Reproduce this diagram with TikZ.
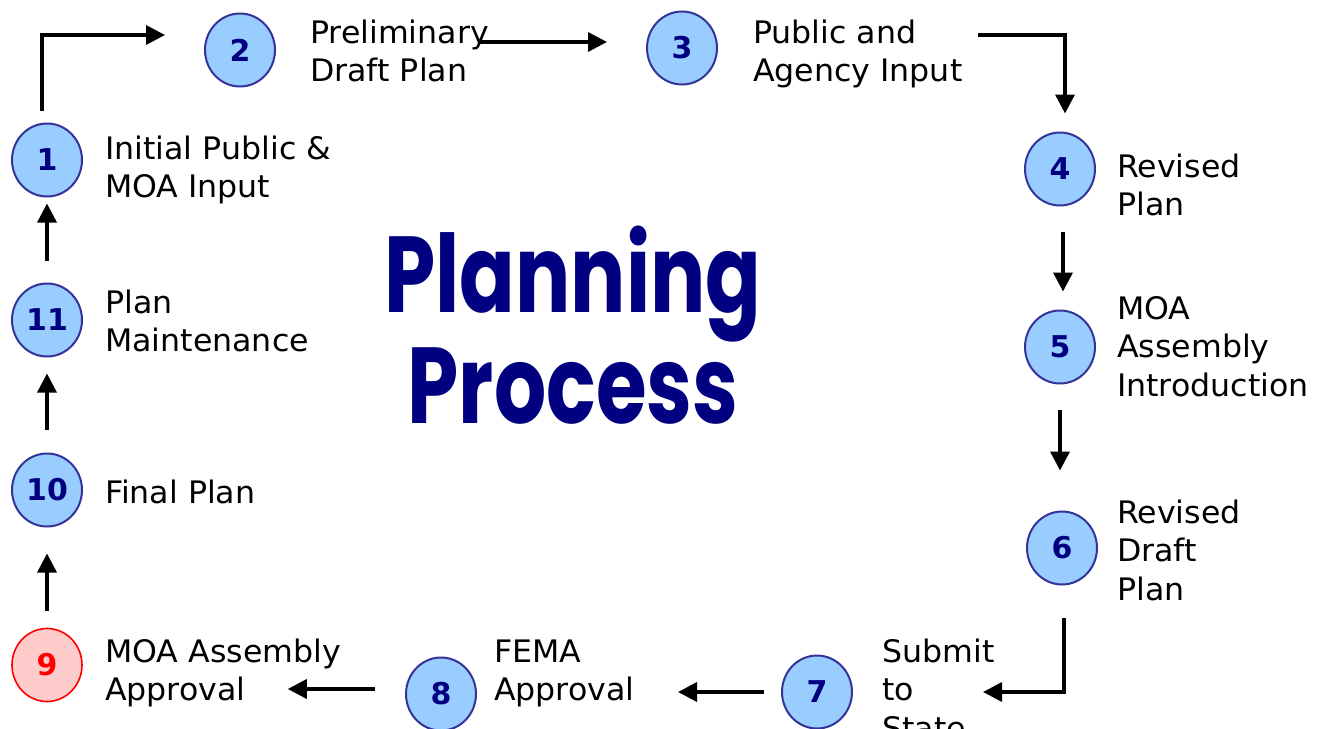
\documentclass[tikz,border=0pt]{standalone}
\usepackage{fontspec}
\usepackage{graphicx}
\setmainfont{DejaVu Sans}
\newfontfamily\titlefont{Poppins}
\usetikzlibrary{arrows.meta,shapes.geometric}

\definecolor{stepfill}{HTML}{99CCFF}
\definecolor{stepedge}{HTML}{333399}
\definecolor{stepnum}{HTML}{000080}
\definecolor{holdfill}{HTML}{FFCCCC}
\definecolor{holdedge}{HTML}{FF0000}
\definecolor{titleblue}{HTML}{000080}

% multi-line step caption, anchored on the baseline of its first line
\newcommand\steplines[1]{{\fontsize{31}{38.5}\selectfont\scalebox{1.02}[1]{\begin{tabular}[t]{@{}l@{}}#1\end{tabular}}}}

\begin{document}
\begin{tikzpicture}[x=1pt,y=-1pt,
  stepcircle/.style={ellipse, draw=stepedge, fill=stepfill, line width=2pt,
    minimum width=70pt, minimum height=73pt, inner sep=0pt, text=stepnum,
    font=\fontsize{30}{32}\selectfont\bfseries},
  holdcircle/.style={stepcircle, draw=holdedge, fill=holdfill, text=holdedge, line width=1.6pt},
  steptext/.style={anchor=base west, inner sep=0pt},
  flow/.style={line width=3.5pt, -{Triangle[length=19pt,width=19pt]}}]
\useasboundingbox (0,0) rectangle (1330,728);

% step markers
\node[stepcircle] (c1)  at (47,160)  {1};
\node[stepcircle] (c2)  at (240,50)  {2};
\node[stepcircle] (c3)  at (682,48)  {3};
\node[stepcircle] (c4)  at (1060,169) {4};
\node[stepcircle] (c5)  at (1060,347) {5};
\node[stepcircle] (c6)  at (1062,548) {6};
\node[stepcircle] (c7)  at (817,692) {7};
\node[stepcircle] (c8)  at (441,694) {8};
\node[holdcircle] (c9)  at (47,665)  {9};
\node[stepcircle] (c10) at (47,490)  {10};
\node[stepcircle] (c11) at (47,320)  {11};

% step captions
\node[steptext] (l1)  at (105,159)  {\steplines{Initial Public \&\\MOA Input}};
\node[steptext] (l2)  at (310,43)   {\steplines{Preliminary\\Draft Plan}};
\node[steptext] (l3)  at (753,43)   {\steplines{Public and\\Agency Input}};
\node[steptext] (l4)  at (1117,177) {\steplines{Revised\\Plan}};
\node[steptext] (l5)  at (1117,319) {\steplines{MOA\\Assembly\\Introduction}};
\node[steptext] (l6)  at (1117,523) {\steplines{Revised\\Draft\\Plan}};
\node[steptext] (l7)  at (882,662)  {\steplines{Submit\\to\\State}};
\node[steptext] (l8)  at (494,662)  {\steplines{FEMA\\Approval}};
\node[steptext] (l9)  at (105,662)  {\steplines{MOA Assembly\\Approval}};
\node[steptext] (l10) at (105,503)  {\steplines{Final Plan}};
\node[steptext] (l11) at (105,313)  {\steplines{Plan\\Maintenance}};

% title
\node[anchor=base, inner sep=0pt, text=titleblue] (title) at (573,312)
  {\scalebox{0.76}[1]{\titlefont\bfseries\fontsize{108}{111}\selectfont
   \begin{tabular}[t]{@{}c@{}}Planning\\Process\end{tabular}}};

% flow between steps
\draw[flow] ([xshift=-5pt,yshift=12pt]c1.north) |- ([xshift=-39pt,yshift=15pt]c2.west);
\draw[flow] ([xshift=204pt,yshift=8pt]c2.east) -- ([xshift=-39pt,yshift=6pt]c3.west);
\draw[flow] ([xshift=260pt,yshift=13pt]c3.east) -| ([xshift=5pt,yshift=18pt]c4.north);
\draw[flow] ([xshift=3pt,yshift=-25pt]c4.south) -- ([xshift=3pt,yshift=18pt]c5.north);
\draw[flow] ([yshift=-25pt]c5.south) -- ([xshift=-2pt,yshift=40pt]c6.north);
\draw[flow] ([xshift=2pt,yshift=-32pt]c6.south) |- ([xshift=130pt]c7.east);
\draw[flow] ([xshift=-17pt]c7.west) -- ([xshift=201pt,yshift=2pt]c8.east);
\draw[flow] ([xshift=-30pt,yshift=5pt]c8.west) -- ([xshift=205pt,yshift=-24pt]c9.east);
\draw[flow] ([yshift=17pt]c9.north) -- ([yshift=-26pt]c10.south);
\draw[flow] ([yshift=23pt]c10.north) -- ([yshift=-16pt]c11.south);
\draw[flow] ([yshift=22pt]c11.north) -- ([yshift=-6pt]c1.south);
\end{tikzpicture}
\end{document}
